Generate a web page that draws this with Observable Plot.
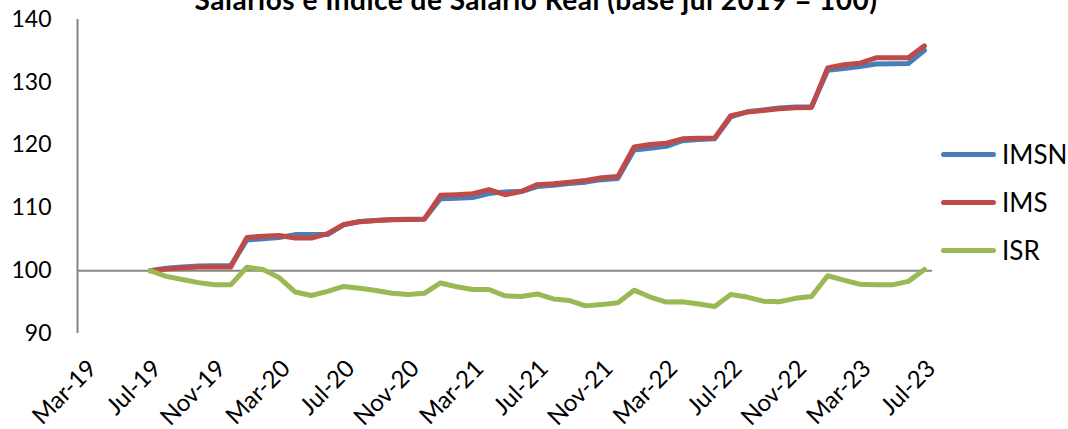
<!DOCTYPE html>
<html><head><meta charset="utf-8">
<script src="https://cdn.jsdelivr.net/npm/d3@7"></script>
<script src="https://cdn.jsdelivr.net/npm/@observablehq/plot@0.6"></script>
<style>
html,body{margin:0;padding:0;background:#fff;}
#wrap{position:relative;width:1068px;height:429px;overflow:hidden;font-family:Lato,"Open Sans",sans-serif;color:#000;}
#chart{position:absolute;left:0;top:0;}
#title{position:absolute;left:0;width:1072px;top:-15px;text-align:center;font-weight:bold;font-size:28px;line-height:28px;letter-spacing:0.5px;white-space:nowrap;}
#legend{position:absolute;left:941px;top:139px;}
.item{display:flex;align-items:center;height:30px;margin-bottom:18px;}
.sw{width:55px;height:5px;border-radius:3px;margin-right:6px;}
.lab{font-size:26px;line-height:30px;}
</style></head><body>
<div id="wrap"><div id="chart"></div><div id="title"></div><div id="legend"></div></div>
<script>
const title = "Salarios e Índice de Salario Real (base jul 2019 = 100)";
const seriesNames = ["IMSN", "IMS", "ISR"];
const seriesColors = ["#4A7EBB", "#BE4B48", "#98B954"];
const imsn = [100, 100.4, 100.6, 100.75, 100.8, 100.8, 104.9, 105.1, 105.3, 105.75, 105.75, 105.75,
  107.3, 107.85, 108.0, 108.15, 108.2, 108.25, 111.45, 111.55, 111.65, 112.3, 112.55, 112.6,
  113.4, 113.6, 113.9, 114.1, 114.5, 114.7, 119.2, 119.5, 119.8, 120.7, 120.9, 121.0,
  124.5, 125.3, 125.6, 125.9, 126.05, 126.1, 131.9, 132.2, 132.5, 132.9, 132.95, 133.0, 135.1];
const ims = [100, 100.25, 100.45, 100.6, 100.6, 100.6, 105.3, 105.5, 105.6, 105.2, 105.2, 105.9,
  107.35, 107.8, 108.0, 108.1, 108.15, 108.2, 112.0, 112.1, 112.25, 112.9, 112.1, 112.6,
  113.7, 113.85, 114.1, 114.35, 114.8, 115.0, 119.7, 120.1, 120.3, 121.0, 121.1, 121.15,
  124.7, 125.25, 125.5, 125.8, 125.95, 126.0, 132.3, 132.8, 133.05, 133.9, 133.9, 133.9, 135.8];
const isr = [100, 99.1, 98.6, 98.1, 97.75, 97.75, 100.55, 100.2, 98.9, 96.6, 96.05, 96.7,
  97.5, 97.2, 96.85, 96.4, 96.2, 96.4, 98.05, 97.45, 97.0, 97.0, 96.0, 95.9,
  96.3, 95.5, 95.25, 94.4, 94.6, 94.9, 96.9, 95.8, 95.0, 95.05, 94.7, 94.3,
  96.2, 95.8, 95.15, 95.05, 95.6, 95.9, 99.2, 98.5, 97.85, 97.75, 97.75, 98.3, 100.2];
const tickLabels = ["Mar-19", "Jul-19", "Nov-19", "Mar-20", "Jul-20", "Nov-20", "Mar-21",
  "Jul-21", "Nov-21", "Mar-22", "Jul-22", "Nov-22", "Mar-23", "Jul-23"];
const yTicks = [90, 100, 110, 120, 130, 140];
const yDomain = [90, 140];
const baseValue = 100;

const months = d3.utcMonth.range(new Date(Date.UTC(2019, 6, 1)), new Date(Date.UTC(2023, 7, 1)));
const monthIndex = d => (d.getUTCFullYear() - 2019) * 12 + d.getUTCMonth() - 6;
const parseLabel = d3.utcParse("%b-%y");
const tickIdx = tickLabels.map(l => monthIndex(parseLabel(l)));
const labelByIdx = new Map(tickIdx.map((t, i) => [t, tickLabels[i]]));
const xDomain = [d3.min(tickIdx) - 0.5, monthIndex(months[months.length - 1]) + 0.5];

const seriesValues = [imsn, ims, isr];
const rows = [];
seriesNames.forEach((s, k) => months.forEach((m, i) => rows.push({series: s, i: monthIndex(m), value: seriesValues[k][i]})));

const chart = Plot.plot({
  width: 1068, height: 429,
  marginLeft: 77, marginRight: 136, marginTop: 19, marginBottom: 96,
  style: {fontFamily: "Lato, 'Open Sans', sans-serif", fontSize: "23px", color: "#000", background: "transparent"},
  x: {domain: xDomain, label: null},
  y: {domain: yDomain, label: null},
  color: {domain: seriesNames, range: seriesColors},
  marks: [
    Plot.ruleY([baseValue], {stroke: "#868686", strokeWidth: 2}),
    Plot.ruleX([xDomain[0]], {stroke: "#868686", strokeWidth: 2}),
    Plot.axisY({ticks: yTicks, tickSize: 0, tickPadding: 26, fontSize: 23, label: null}),
    Plot.axisX({ticks: tickIdx, tickFormat: d => labelByIdx.get(d), tickRotate: -45, tickSize: 0, tickPadding: 31,
      textAnchor: "end", lineAnchor: "middle", fontSize: 24, dx: 7, label: null}),
    Plot.line(rows, {x: "i", y: "value", z: "series", stroke: "series", strokeWidth: 5,
      strokeLinejoin: "round", strokeLinecap: "round"})
  ]
});
document.getElementById("chart").appendChild(chart);
document.getElementById("title").textContent = title;
const leg = d3.select("#legend");
seriesNames.forEach((s, k) => {
  const it = leg.append("div").attr("class", "item");
  it.append("div").attr("class", "sw").style("background", seriesColors[k]);
  it.append("div").attr("class", "lab").text(s);
});
</script>
</body></html>
